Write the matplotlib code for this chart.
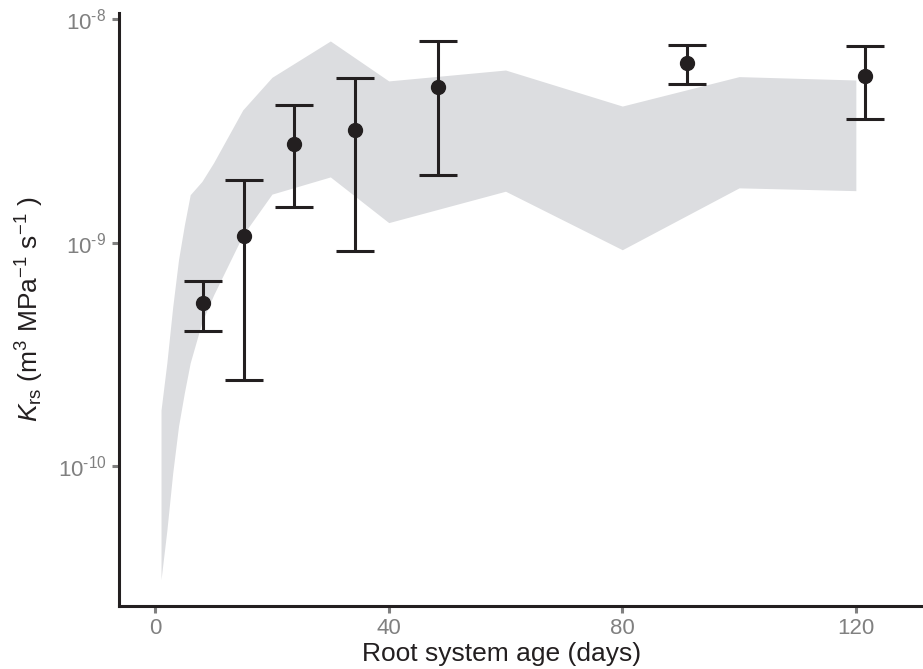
import numpy as np
import matplotlib.pyplot as plt
from matplotlib import font_manager

### data
# shaded band (simulated range)
band_days = [1, 2, 3, 4, 5, 6, 8, 10, 15, 20, 30, 40, 60, 80, 100, 120]
band_low = [3.1e-11, 5.15e-11, 9.3e-11, 1.51e-10, 2.13e-10, 2.9e-10, 4.41e-10, 5.83e-10,
            1.08e-9, 1.65e-9, 1.97e-9, 1.23e-9, 1.70e-9, 9.3e-10, 1.76e-9, 1.71e-9]
band_high = [1.78e-10, 2.9e-10, 5.15e-10, 8.4e-10, 1.2e-9, 1.64e-9, 1.88e-9, 2.28e-9,
             3.93e-9, 5.5e-9, 8.0e-9, 5.3e-9, 5.93e-9, 4.09e-9, 5.54e-9, 5.35e-9]

# measured points with error bars
obs_days = [8.2, 15.2, 23.8, 34.2, 48.4, 91.1, 121.5]
obs_mean = [5.35e-10, 1.07e-9, 2.77e-9, 3.19e-9, 4.98e-9, 6.35e-9, 5.59e-9]
obs_low = [4.03e-10, 2.43e-10, 1.44e-9, 9.19e-10, 2.0e-9, 5.12e-9, 3.57e-9]
obs_high = [6.72e-10, 1.90e-9, 4.12e-9, 5.45e-9, 7.97e-9, 7.65e-9, 7.6e-9]

x_ticks = [0, 40, 80, 120]
y_ticks = [1e-10, 1e-9, 1e-8]
y_ticklabels = [r'10$^{\text{-10}}$', r'10$^{\text{-9}}$', r'10$^{\text{-8}}$']

### fonts
names = {f.name for f in font_manager.fontManager.ttflist}
fam = 'Liberation Sans Narrow' if 'Liberation Sans Narrow' in names else 'Liberation Sans'
plt.rcParams['font.family'] = [fam, 'DejaVu Sans']
plt.rcParams['mathtext.fontset'] = 'custom'
plt.rcParams['mathtext.rm'] = fam
plt.rcParams['mathtext.it'] = fam + ':italic'
plt.rcParams['mathtext.default'] = 'rm'

dark = '#231f20'
grey = '#808080'

fig = plt.figure(figsize=(9.23, 6.69), dpi=100)
ax = fig.add_axes([0.1289, 0.0946, 0.8711, 0.8855])

ax.fill_between(band_days, band_low, band_high, color='#dcdde0', lw=0, zorder=1)

m = np.array(obs_mean)
yerr = [m - np.array(obs_low), np.array(obs_high) - m]
ax.errorbar(obs_days, obs_mean, yerr=yerr, fmt='o', color=dark, ms=10,
            elinewidth=2.2, capsize=13.5, capthick=2.2, zorder=3)

ax.set_yscale('log')
ax.set_xlim(-6.2, 131.5)
ax.set_ylim(2.37e-11, 1.064e-8)
ax.set_xticks(x_ticks)
ax.set_yticks(y_ticks)
ax.set_yticklabels(y_ticklabels)
ax.yaxis.set_minor_locator(plt.NullLocator())

for s in ['top', 'right']:
    ax.spines[s].set_visible(False)
for s in ['left', 'bottom']:
    ax.spines[s].set_linewidth(2.2)
    ax.spines[s].set_color(dark)

ax.tick_params(axis='both', colors=grey, labelcolor=grey, labelsize=16,
               length=5, width=2.2, pad=4)

ax.set_xlabel('Root system age (days)', fontsize=19, color=dark)
ax.xaxis.set_label_coords(0.476, -0.062)
ax.set_ylabel(r'$\mathit{K}_{\mathrm{rs}}$ (m$^{3}$ MPa$^{-1}$ s$^{-1}$ )',
              fontsize=19, color=dark, labelpad=8)

fig.savefig('out.png', dpi=100)
